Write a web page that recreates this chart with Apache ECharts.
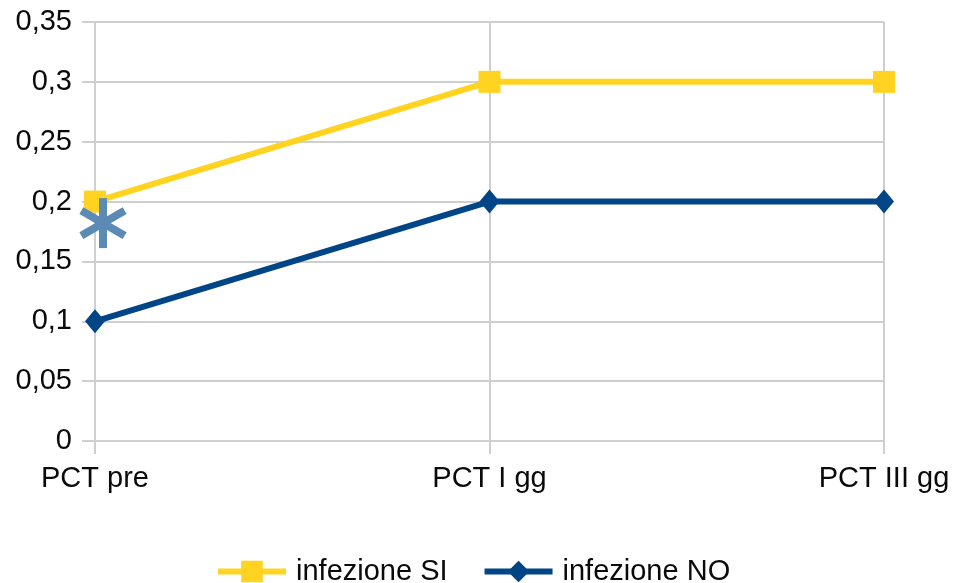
<!DOCTYPE html>
<html>
<head>
<meta charset="utf-8">
<script src="https://cdn.jsdelivr.net/npm/echarts@6/dist/echarts.min.js"></script>
<style>
  html, body { margin: 0; padding: 0; background: #fff; }
  #chart { width: 960px; height: 583px; }
</style>
</head>
<body>
<div id="chart"></div>
<script>
// PCT over time, by infection status
const categories = ['PCT pre', 'PCT I gg', 'PCT III gg'];
const infezioneSI = [0.2, 0.3, 0.3];
const infezioneNO = [0.1, 0.2, 0.2];
// significance marker at the pre-operative time point
const significance = [[0, 0.182]];

const seriesNames = ['infezione SI', 'infezione NO'];
const yTicks = { min: 0, max: 0.35, interval: 0.05 };

const FONT = 'Liberation Sans';
const GRID = '#cfcfcf';
const TEXT = '#0a0a0a';
const STAR = '#5b8bb5';

// six-armed asterisk drawn as three stroked bars around the data point
function renderAsterisk(params, api) {
  const p = api.coord([api.value(0), api.value(1)]);
  const cx = p[0] + 8, cy = p[1];
  const r = 25;
  const arms = [90, 30, -30].map(deg => {
    const a = deg * Math.PI / 180;
    const dx = r * Math.cos(a), dy = r * Math.sin(a);
    return {
      type: 'line',
      shape: { x1: cx - dx, y1: cy - dy, x2: cx + dx, y2: cy + dy },
      style: { stroke: STAR, lineWidth: 8, lineCap: 'butt' }
    };
  });
  return { type: 'group', children: arms };
}

const chart = echarts.init(document.getElementById('chart'), null, { renderer: 'canvas' });

chart.setOption({
  backgroundColor: '#ffffff',
  animation: false,
  textStyle: { fontFamily: FONT },
  grid: { left: 95, right: 76, top: 22, bottom: 142, containLabel: false },
  legend: {
    data: seriesNames,
    left: 210,
    top: 552,
    itemWidth: 68,
    itemHeight: 27,
    itemGap: 34,
    lineStyle: { width: 6 },
    textStyle: { fontFamily: FONT, fontSize: 29, color: TEXT, padding: [0, 0, 0, 5] }
  },
  xAxis: {
    type: 'category',
    data: categories,
    boundaryGap: false,
    axisLine: { show: true, lineStyle: { color: GRID, width: 2 } },
    axisTick: { show: true, length: 13, lineStyle: { color: GRID, width: 2 } },
    splitLine: { show: true, lineStyle: { color: GRID, width: 2 } },
    axisLabel: { fontFamily: FONT, fontSize: 29, color: TEXT, margin: 23 }
  },
  yAxis: {
    type: 'value',
    min: yTicks.min,
    max: yTicks.max,
    interval: yTicks.interval,
    axisLine: { show: true, lineStyle: { color: GRID, width: 2 } },
    axisTick: { show: true, length: 13, lineStyle: { color: GRID, width: 2 } },
    splitLine: { show: true, lineStyle: { color: GRID, width: 2 } },
    axisLabel: {
      fontFamily: FONT, fontSize: 29, color: TEXT, margin: 23,
      formatter: v => String(Number(v.toFixed(2))).replace('.', ',')
    }
  },
  series: [
    {
      name: seriesNames[0],
      type: 'line',
      data: infezioneSI,
      symbol: 'rect',
      symbolSize: 22,
      lineStyle: { color: '#ffd320', width: 6 },
      itemStyle: { color: '#ffd320' },
      z: 3
    },
    {
      name: seriesNames[1],
      type: 'line',
      data: infezioneNO,
      symbol: 'diamond',
      symbolSize: [20, 24],
      lineStyle: { color: '#004586', width: 6 },
      itemStyle: { color: '#004586' },
      z: 3
    },
    {
      name: 'significance',
      type: 'custom',
      data: significance,
      renderItem: renderAsterisk,
      z: 5
    }
  ]
});
</script>
</body>
</html>
